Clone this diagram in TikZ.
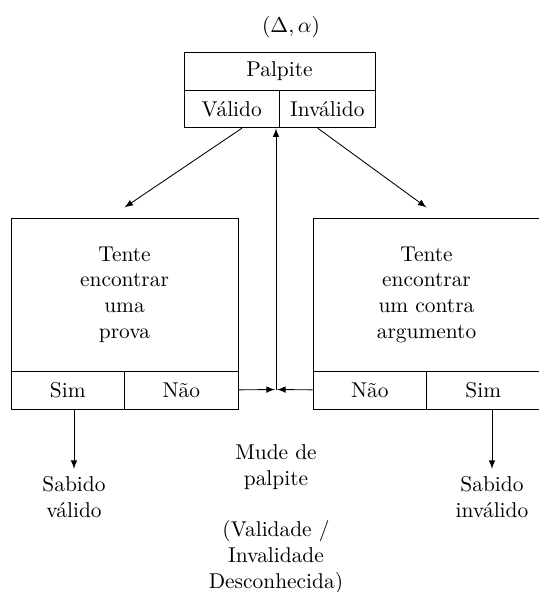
\documentclass[tikz,border=0pt]{standalone}
\usetikzlibrary{positioning}
\usetikzlibrary{calc}
\tikzset{
  box/.style={draw, align=center, inner sep=2pt},
}
\begin{document}
\begin{tikzpicture}[x=0.467pt, y=-0.467pt,
  head/.style={box, minimum width=89.2pt, minimum height=17.7pt},
  half/.style={box, minimum width=44.6pt, minimum height=17.3pt},
  task/.style={box, minimum width=106pt, minimum height=71.5pt},
  answer/.style={box, minimum width=53pt, minimum height=17.3pt},
  result/.style={align=center}
]
\useasboundingbox (0,0) rectangle (539,592);

% Guess
\node (input) at (291,27) {$(\Delta, \alpha)$};
\node[head] (palpite) at (279.5,71) {Palpite};
\node[half, below right=0pt and 0pt of palpite.south west] (valido) {Válido};
\node[half, below left=0pt and 0pt of palpite.south east] (invalido) {Inválido};

% Proof
\node[task] (prova) at (124.5,294.5) {Tente\\encontrar\\uma\\prova};
\node[answer, below right=0pt and 0pt of prova.south west] (sim1) {Sim};
\node[answer, below left=0pt and 0pt of prova.south east] (nao1) {Não};

% Counter argument
\node[task] (contra) at (426.5,294.5) {Tente\\encontrar\\um contra\\argumento};
\node[answer, below right=0pt and 0pt of contra.south west] (nao2) {Não};
\node[answer, below left=0pt and 0pt of contra.south east] (sim2) {Sim};

% Results
\node[result] (sabido1) at (74,497) {Sabido\\válido};
\node[result] (sabido2) at (492,497) {Sabido\\inválido};
\node[result] (mude) at (276,519) {Mude de\\palpite\\[12pt](Validade /\\Invalidade\\Desconhecida)};
\coordinate (meet) at (276,389.5);

% Edges
\draw[-latex] ([xshift=4.7pt]valido.south) -- ([yshift=4.7pt]prova.north);
\draw[-latex] ([xshift=-4.4pt]invalido.south) -- ([yshift=4.7pt]contra.north);
\draw[-latex] (nao1) -- ([xshift=-0.5pt]meet);
\draw[-latex] (nao2) -- ([xshift=0.5pt]meet);
\draw[-latex] (meet) -- (meet |- valido.south);
\draw[-latex] (sim1.south -| sabido1) -- (sabido1);
\draw[-latex] (sim2.south -| sabido2) -- (sabido2);
\end{tikzpicture}
\end{document}
